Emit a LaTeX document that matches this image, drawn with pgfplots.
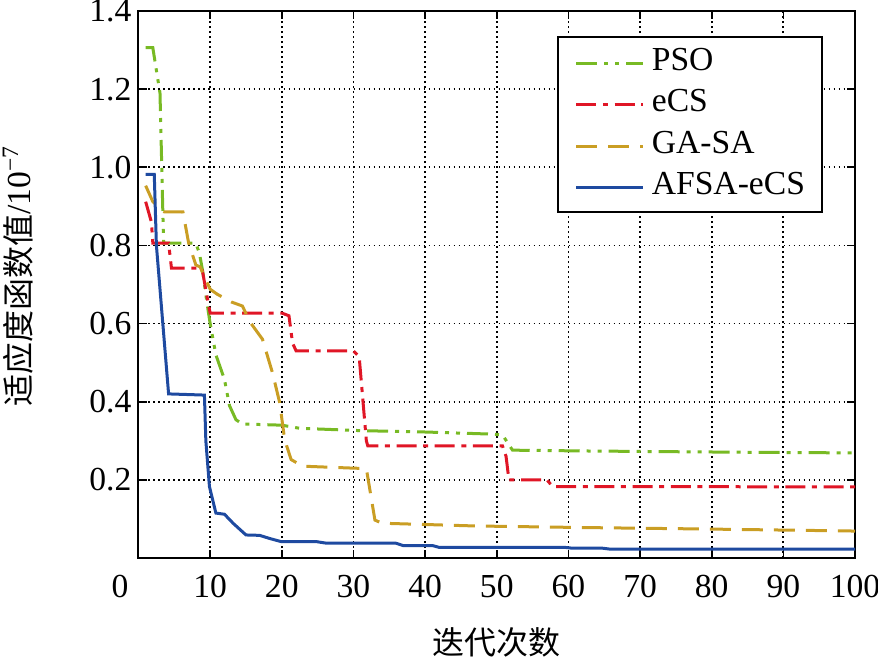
\documentclass[border=0pt]{standalone}
\usepackage{fontspec}
\setmainfont{Liberation Serif}
\newfontfamily\cjk{Noto Sans CJK SC}
\usepackage{pgfplots}
\pgfplotsset{compat=1.18}
\definecolor{psoc}{RGB}{120,186,36}
\definecolor{ecsc}{RGB}{224,22,38}
\definecolor{gac}{RGB}{202,158,36}
\definecolor{afc}{RGB}{30,74,160}
\newcommand\fs{\fontsize{16.8}{20}\selectfont\rmfamily}
\begin{document}
\begin{tikzpicture}
\path[use as bounding box] (0,0) rectangle (439pt,-329.5pt);
\begin{axis}[
  at={(69.25pt,-279pt)}, anchor=south west,
  scale only axis, width=358.25pt, height=273.5pt,
  xmin=0, xmax=100, ymin=0, ymax=1.4,
  xtick={10,20,30,40,50,60,70,80,90,100},
  xticklabels={10,20,30,40,50,60,70,80,90,100},
  ytick={0.2,0.4,0.6,0.8,1.0,1.2,1.4},
  yticklabels={0.2,0.4,0.6,0.8,1.0,1.2,1.4},
  extra x ticks={0}, extra x tick labels={0},
  extra x tick style={xticklabel style={xshift=-9.25pt}},
  tick label style={font=\fs},
  xticklabel style={yshift=-5pt},
  tick align=inside,
  major tick length=4pt,
  every tick/.style={black, line width=0.8pt},
  axis line style={line width=1pt},
  grid=major,
  major grid style={black, line width=0.9pt, dash pattern=on 0.9pt off 1.6pt},
  every axis x label/.style={at={(axis description cs:0.5,-0.1536)}, anchor=center},
  every axis y label/.style={at={(axis description cs:-0.1682,0.5155)}, anchor=center, rotate=90},
  xlabel={\fontsize{16}{18}\selectfont\cjk 迭代次数},
  ylabel={\fs{\fontsize{16}{18}\selectfont\cjk 适应度函数值}/10\textsuperscript{−7}},
  legend style={at={(axis description cs:0.9553,0.954)}, anchor=north east,
    draw=black, line width=1pt, font=\fs, inner xsep=8.5pt, inner ysep=4.6pt,
    row sep=4.75pt, column sep=3.5pt,
    nodes={inner sep=0pt, text height=12pt, text depth=4pt, anchor=base west}},
  legend cell align=left,
  legend image code/.code={\draw[#1] (0pt,0.36em) -- (33.5pt,0.36em);},
]
\addplot[psoc, line width=1.5pt, dash pattern=on 10.5pt off 3.5pt on 2pt off 3.5pt on 2pt off 3.5pt] coordinates {
(1,1.306) (2,1.306) (3,1.19) (3.5,0.806) (8,0.806) (8.5,0.78) (9,0.73) (9.5,0.66) (10,0.60)
(10.8,0.52) (12,0.457) (12.7,0.39) (13.6,0.354) (14.5,0.343) (20,0.340) (22.5,0.332)
(31,0.326) (40,0.3225) (49.5,0.317) (50.8,0.315) (52.2,0.276) (62,0.274) (75,0.272)
(90,0.270) (100,0.269)};
\addlegendentry{PSO}
\addplot[ecsc, line width=1.5pt, dash pattern=on 10pt off 3.3pt on 2.5pt off 3.3pt] coordinates {
(1,0.912) (1.8,0.86) (2,0.806) (4.2,0.806) (4.6,0.742) (8.8,0.742) (9,0.727) (9.7,0.655)
(10,0.627) (20,0.627) (21,0.62) (21.5,0.55) (22,0.530) (30,0.530) (30.8,0.515) (31.8,0.30)
(32,0.287) (50.8,0.287) (51.3,0.26) (51.7,0.200) (57,0.200) (57.8,0.183) (100,0.182)};
\addlegendentry{eCS}
\addplot[gac, line width=1.5pt, dash pattern=on 10.5pt off 5.5pt] coordinates {
(1,0.953) (2,0.912) (3.6,0.886) (6.2,0.886) (7,0.806) (8,0.75) (8.6,0.745) (9.2,0.72)
(10,0.688) (11,0.675) (12.2,0.663) (13,0.655) (14.5,0.645) (15.6,0.603) (17.3,0.56)
(18.7,0.474) (19.7,0.398) (20.4,0.303) (21.3,0.252) (22.9,0.235) (30,0.230) (31.8,0.229)
(33,0.097) (34,0.089) (47,0.082) (62,0.078) (80,0.074) (100,0.069)};
\addlegendentry{GA-SA}
\addplot[afc, line width=1.5pt] coordinates {
(1,0.982) (2.2,0.982) (2.5,0.80) (4.2,0.42) (9.2,0.417) (9.4,0.30) (9.9,0.183) (10.8,0.115)
(12,0.112) (13.2,0.089) (15,0.059) (16.9,0.058) (18.3,0.050) (19.9,0.042) (24.8,0.042)
(26.2,0.038) (35.9,0.038) (36.9,0.032) (41,0.032) (42,0.027) (59.6,0.027) (60.6,0.025)
(64.8,0.025) (65.7,0.023) (100,0.023)};
\addlegendentry{AFSA-eCS}
\end{axis}
\end{tikzpicture}
\end{document}
